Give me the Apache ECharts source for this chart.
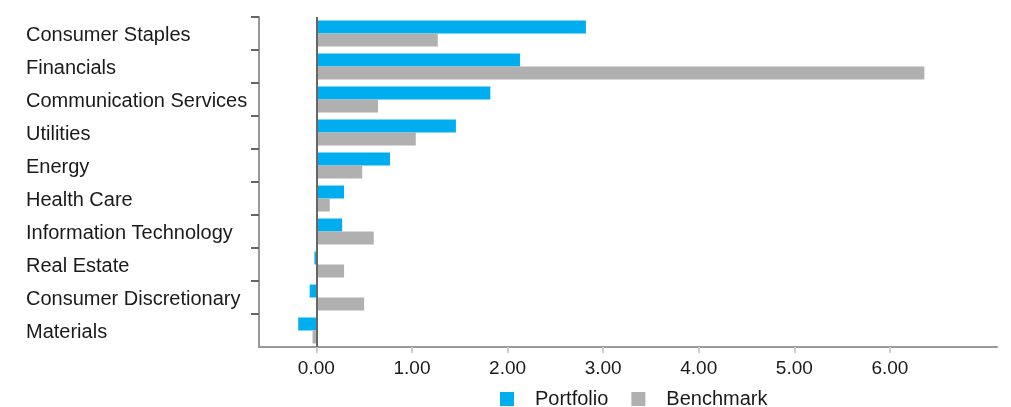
<!DOCTYPE html>
<html>
<head>
<meta charset="utf-8">
<script src="https://cdn.jsdelivr.net/npm/echarts@6/dist/echarts.min.js"></script>
<style>
html,body{margin:0;padding:0;background:#fff;}
#chart{width:1011px;height:407px;}
</style>
</head>
<body>
<div id="chart"></div>
<script>
const categories = ["Consumer Staples","Financials","Communication Services","Utilities","Energy","Health Care","Information Technology","Real Estate","Consumer Discretionary","Materials"];
const portfolio = [2.82,2.13,1.82,1.46,0.77,0.29,0.27,-0.02,-0.07,-0.19];
const benchmark = [1.27,6.36,0.645,1.04,0.48,0.14,0.60,0.29,0.50,-0.04];
const tickValues = [0,1,2,3,4,5,6];

// bottom-to-top order so the first category tick (bottom boundary) can be hidden
const catsUp = categories.slice().reverse();
const portUp = portfolio.slice().reverse();
const benchUp = benchmark.slice().reverse();

const FONT = '"Liberation Sans", Arial, Helvetica, sans-serif';
const chart = echarts.init(document.getElementById('chart'), null, {renderer:'canvas'});
chart.setOption({
  animation:false,
  textStyle:{fontFamily:FONT},
  grid:{left:259,right:14,top:17,bottom:60,containLabel:false},
  legend:{
    left:495, top:384,
    itemWidth:14, itemHeight:14, itemGap:23,
    icon:'rect',
    textStyle:{fontSize:20,color:'#1a1a1a',fontFamily:FONT,padding:[0,0,0,16]},
    data:['Portfolio','Benchmark']
  },
  xAxis:{
    type:'value', min:-0.6, max:7.12,
    axisLine:{show:true,onZero:false,lineStyle:{color:'#999',width:2}},
    axisTick:{show:true,length:6,lineStyle:{color:'#ccc',width:2},customValues:tickValues},
    axisLabel:{fontSize:19,color:'#1a1a1a',fontFamily:FONT,margin:12,customValues:tickValues,
      formatter:v=>v.toFixed(2)},
    splitLine:{show:false}
  },
  yAxis:{
    type:'category', data:catsUp,
    axisLine:{show:true,onZero:false,lineStyle:{color:'#999',width:2}},
    axisTick:{show:true,length:8,lineStyle:{color:'#666',width:2},interval:(i)=>i!==0},
    axisLabel:{fontSize:20,color:'#1a1a1a',fontFamily:FONT,align:'left',margin:233,
      formatter:v=>'{a|'+v+'}',
      rich:{a:{fontSize:20,color:'#1a1a1a',fontFamily:FONT,padding:[4,0,0,0]}}}
  },
  series:[
    {name:'Portfolio',type:'bar',data:portUp,barWidth:13,barGap:'0%',
     itemStyle:{color:'#00AEEF'},
     markLine:{silent:true,symbol:'none',label:{show:false},
       lineStyle:{color:'#666',width:2,type:'solid'},data:[{xAxis:0}]}},
    {name:'Benchmark',type:'bar',data:benchUp,barWidth:13,barGap:'0%',
     itemStyle:{color:'#B0B0B0'}}
  ]
});
</script>
</body>
</html>
